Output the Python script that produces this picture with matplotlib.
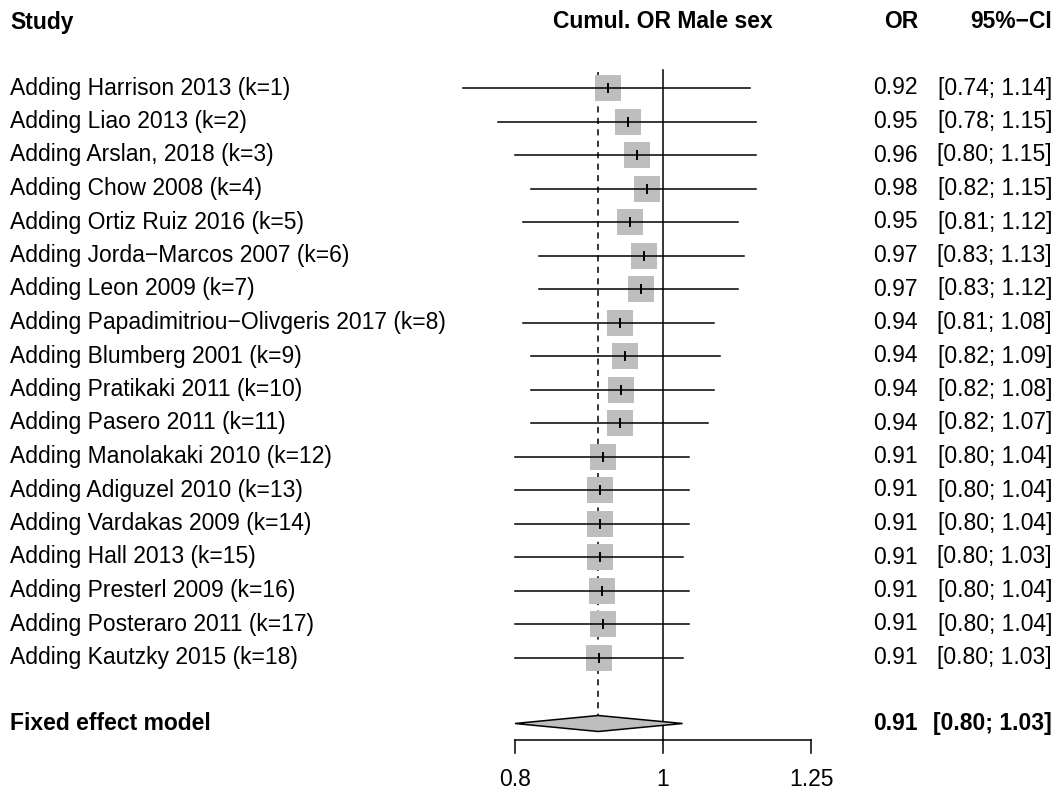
import matplotlib
matplotlib.use("Agg")
import matplotlib.pyplot as plt
import numpy as np

# Dane: kumulatywna metaanaliza (OR, 95% CI)
studies = ["Harrison 2013", "Liao 2013", "Arslan, 2018", "Chow 2008", "Ortiz Ruiz 2016",
           "Jorda\u2212Marcos 2007", "Leon 2009", "Papadimitriou\u2212Olivgeris 2017",
           "Blumberg 2001", "Pratikaki 2011", "Pasero 2011", "Manolakaki 2010",
           "Adiguzel 2010", "Vardakas 2009", "Hall 2013", "Presterl 2009",
           "Posteraro 2011", "Kautzky 2015"]
est = [0.920, 0.949, 0.962, 0.976, 0.952, 0.972, 0.967, 0.937, 0.944, 0.939,
       0.937, 0.913, 0.909, 0.909, 0.909, 0.912, 0.913, 0.908]
lower = [0.74, 0.78, 0.80, 0.82, 0.81, 0.83, 0.83, 0.81, 0.82, 0.82,
         0.82, 0.80, 0.80, 0.80, 0.80, 0.80, 0.80, 0.80]
upper = [1.14, 1.15, 1.15, 1.15, 1.12, 1.13, 1.12, 1.08, 1.09, 1.08,
         1.07, 1.04, 1.04, 1.04, 1.03, 1.04, 1.04, 1.03]
fixed_est, fixed_lo, fixed_hi = 0.907, 0.80, 1.03
ticks = [0.8, 1, 1.25]
tick_labels = ["0.8", "1", "1.25"]

W, H = 1058, 795
plt.rcParams['font.family'] = ['Liberation Sans', 'DejaVu Sans']
fs = 16.5

fig = plt.figure(figsize=(W / 100, H / 100), dpi=100)
ax = fig.add_axes([0, 0, 1, 1])
ax.set_xscale('log')
# skala: 1 -> 663 px, 663.3 px na jednostke ln
ax.set_xlim(np.exp(-663 / 663.3), np.exp((W - 663) / 663.3))
ax.set_ylim(H, 0)
ax.axis('off')

tr = ax.get_yaxis_transform()  # x w ulamku osi, y w danych (px)
row_y = [88 + 33.5 * i for i in range(len(studies))]
fixed_y = 723.5
head_y = 22

# linie pionowe
ax.plot([1, 1], [70, 740], color='black', lw=1.1, zorder=1)
ax.plot([fixed_est, fixed_est], [72, fixed_y - 8], color='black', lw=1.1,
        ls=(0, (4, 3.5)), zorder=1)

for i, name in enumerate(studies):
    y = row_y[i]
    ax.plot(est[i], y, marker='s', ms=18.7, color='#BEBEBE', mew=0, zorder=2)
    ax.plot([lower[i], upper[i]], [y, y], color='black', lw=1.1, zorder=3)
    ax.plot([est[i], est[i]], [y - 4, y + 4], color='black', lw=1.4, zorder=4)
    ax.text(10 / W, y, f"Adding {name} (k={i + 1})", transform=tr, fontsize=fs,
            va='center', ha='left')
    ax.text(918 / W, y, f"{est[i]:.2f}", transform=tr, fontsize=fs, va='center', ha='right')
    ax.text(1052 / W, y, f"[{lower[i]:.2f}; {upper[i]:.2f}]", transform=tr, fontsize=fs,
            va='center', ha='right')

# diament modelu stalego
ax.fill([fixed_lo, fixed_est, fixed_hi, fixed_est],
        [fixed_y, fixed_y - 8, fixed_y, fixed_y + 8],
        facecolor='#BEBEBE', edgecolor='black', lw=1.1, zorder=3)
ax.text(10 / W, fixed_y, "Fixed effect model", transform=tr, fontsize=fs,
        fontweight='bold', va='center', ha='left')
ax.text(918 / W, fixed_y, f"{fixed_est:.2f}", transform=tr, fontsize=fs,
        fontweight='bold', va='center', ha='right')
ax.text(1052 / W, fixed_y, f"[{fixed_lo:.2f}; {fixed_hi:.2f}]", transform=tr, fontsize=fs,
        fontweight='bold', va='center', ha='right')

# naglowki
ax.text(10 / W, head_y, "Study", transform=tr, fontsize=fs, fontweight='bold',
        va='center', ha='left')
ax.text(1, head_y, "Cumul. OR Male sex", fontsize=fs, fontweight='bold',
        va='center', ha='center')
ax.text(918 / W, head_y, "OR", transform=tr, fontsize=fs, fontweight='bold',
        va='center', ha='right')
ax.text(1052 / W, head_y, "95%\u2212CI", transform=tr, fontsize=fs, fontweight='bold',
        va='center', ha='right')

# os x
ax.plot([ticks[0], ticks[-1]], [740, 740], color='black', lw=1.1)
for t, lab in zip(ticks, tick_labels):
    ax.plot([t, t], [740, 753], color='black', lw=1.1)
    ax.text(t, 779, lab, fontsize=fs, va='center', ha='center')

fig.savefig("out.png", dpi=100)
